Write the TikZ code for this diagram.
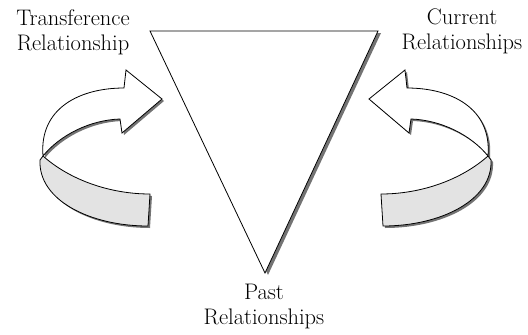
\documentclass[tikz,border=0pt]{standalone}
\begin{document}
\begin{tikzpicture}[x=1pt,y=-1pt,
  outline/.style={draw=black,line width=0.8pt,line join=miter},
  shadowc/.style={fill=black!55},
  lbl/.style={align=center,font=\fontsize{22.5}{25}\selectfont,inner sep=0pt}]
\useasboundingbox (0,0) rectangle (528,335);
\newcommand{\upperpart}{(43,156) .. controls (39,108) and (80,88) .. (124,88) -- (126,70) -- (162,99) -- (122,133) -- (120,119) .. controls (90,120) and (60,135) .. cycle}
\newcommand{\lowerpart}{(43,156) .. controls (70,180) and (110,194) .. (150,194) -- (148,226) .. controls (90,226) and (38,200) .. (40,160) -- cycle}
% triangle
\fill[shadowc] (153,33) -- (381,33) -- (268,275) -- cycle;
\draw[outline,fill=white] (150,31) -- (378,31) -- (265,273) -- cycle;
% left arrow
\begin{scope}
  \fill[shadowc,shift={(2,2)}] \upperpart;
  \fill[shadowc,shift={(2,2)}] \lowerpart;
  \draw[outline,fill=black!11] \lowerpart;
  \draw[outline,fill=white] \upperpart;
\end{scope}
% right arrow (mirrored)
\begin{scope}[xshift=531pt,xscale=-1]
  \fill[shadowc,shift={(-2,2)}] \upperpart;
  \fill[shadowc,shift={(-2,2)}] \lowerpart;
  \draw[outline,fill=black!11] \lowerpart;
  \draw[outline,fill=white] \upperpart;
\end{scope}
% labels
\node[lbl] (transf) at (73,32) {Transference\\Relationship};
\node[lbl] (current) at (462,31) {Current\\Relationships};
\node[lbl] (past) at (264,307) {Past\\Relationships};
\end{tikzpicture}
\end{document}
